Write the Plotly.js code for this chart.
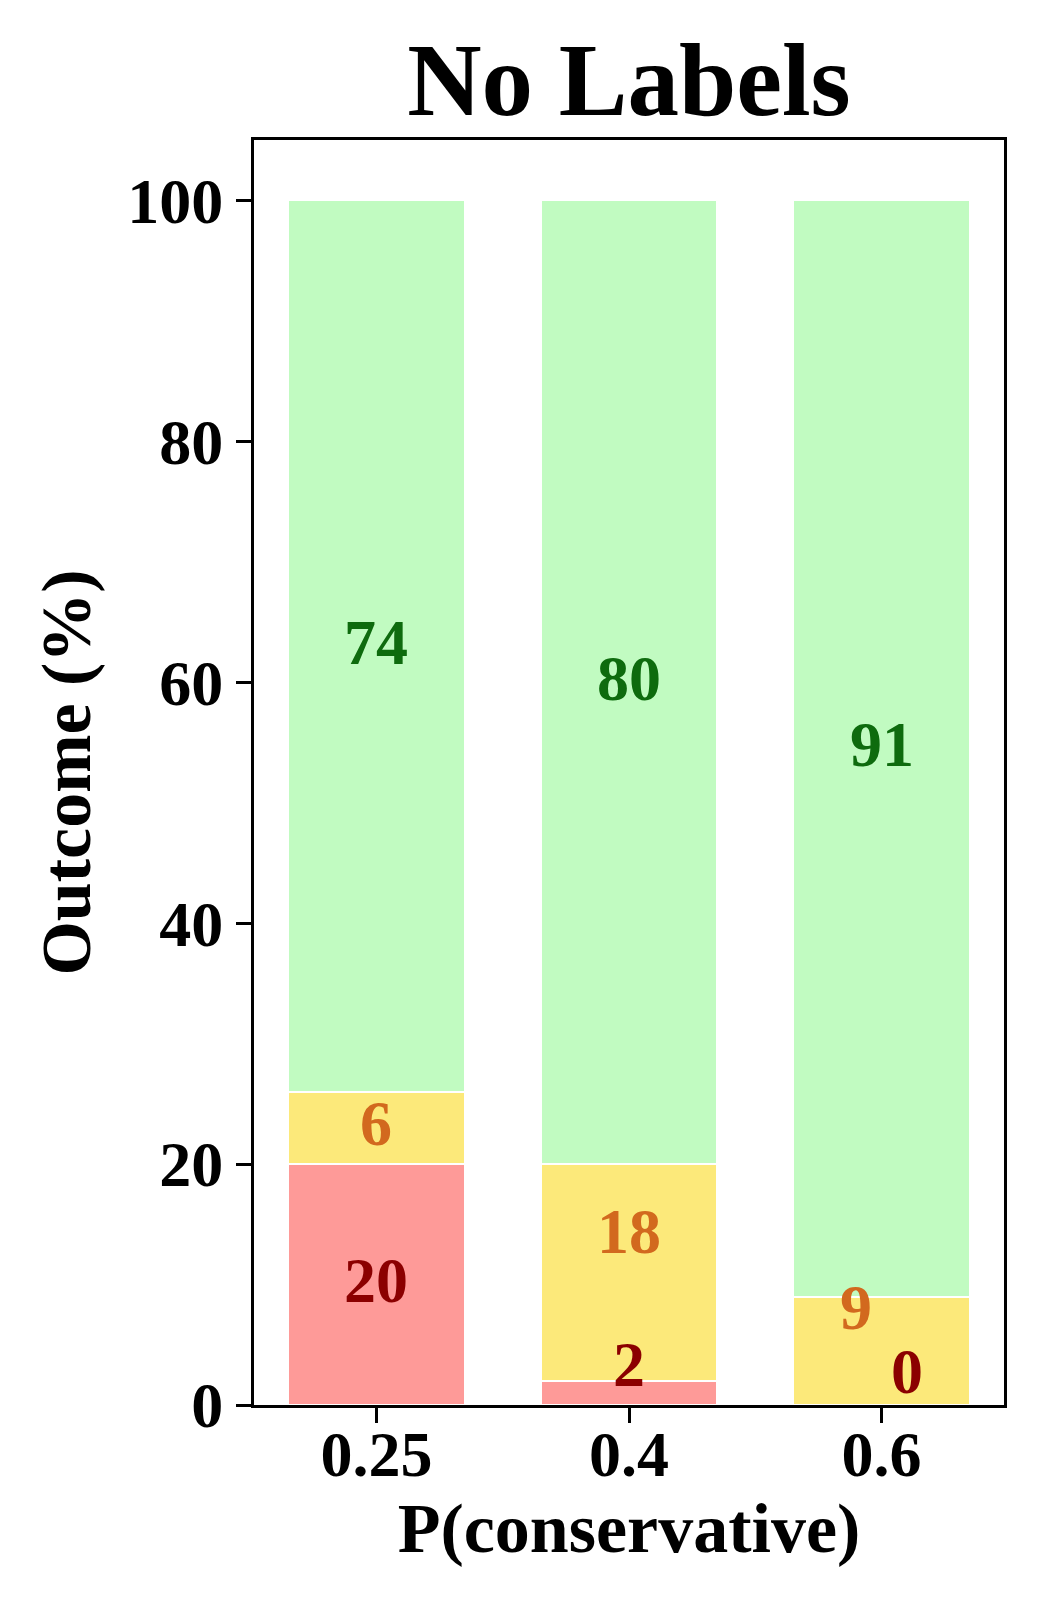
<!DOCTYPE html>
<html>
<head>
<meta charset="utf-8">
<script src="https://cdn.plot.ly/plotly-3.0.1.min.js"></script>
<style>html,body{margin:0;padding:0;background:#fff;}#chart{width:1050px;height:1620px;}</style>
</head>
<body>
<div id="chart"></div>
<script>
const categories = ['0.25', '0.4', '0.6'];
const redValues = [20, 2, 0];
const yellowValues = [6, 18, 9];
const greenValues = [74, 80, 91];
const yTicks = [0, 20, 40, 60, 80, 100];

// styling (label nudges in pixels)
const baseShift = 4;
const redNudgeX = [0, 0, 25], redNudgeY = [0, 24, 30];
const yellowNudgeX = [0, 0, -26], yellowNudgeY = [0, 37, 39];

const FONT = 'Liberation Serif, Times New Roman, serif';
const cGreen = '#c1fbc1', cYellow = '#fce97a', cRed = '#fe9a98';
const tGreen = '#0e6b0e', tYellow = '#d2691e', tRed = '#8b0000';

const xIdx = categories.map((c, i) => i);

function barTrace(vals, color) {
  return {
    type: 'bar', x: xIdx, y: vals, width: 0.7,
    marker: {color: color, line: {color: '#ffffff', width: 2}},
    hoverinfo: 'skip', showlegend: false
  };
}

const traces = [barTrace(redValues, cRed), barTrace(yellowValues, cYellow), barTrace(greenValues, cGreen)];

const annotations = [];
categories.forEach((c, i) => {
  const r = redValues[i], yv = yellowValues[i], g = greenValues[i];
  annotations.push({x: i, y: r / 2, text: String(r), showarrow: false, xshift: redNudgeX[i], yshift: baseShift + redNudgeY[i],
    font: {family: FONT, size: 64, color: tRed, weight: 'bold'}});
  annotations.push({x: i, y: r + yv / 2, text: String(yv), showarrow: false, xshift: yellowNudgeX[i], yshift: baseShift + yellowNudgeY[i],
    font: {family: FONT, size: 64, color: tYellow, weight: 'bold'}});
  annotations.push({x: i, y: r + yv + g / 2, text: String(g), showarrow: false, yshift: baseShift,
    font: {family: FONT, size: 64, color: tGreen, weight: 'bold'}});
});

const layout = {
  width: 1050, height: 1620,
  margin: {l: 254, r: 46, t: 140, b: 215},
  paper_bgcolor: '#ffffff', plot_bgcolor: '#ffffff',
  barmode: 'stack', bargap: 0.3,
  font: {family: FONT, color: '#000', weight: 'bold'},
  title: {text: '<b>No Labels</b>', x: 0.599, xanchor: 'center', y: 0.951, yanchor: 'middle',
    font: {family: FONT, size: 103, color: '#000'}},
  xaxis: {
    range: [-0.485, 2.485], tickvals: xIdx, ticktext: categories,
    showline: true, linecolor: '#000', linewidth: 3, mirror: true,
    ticks: 'outside', ticklen: 15, tickwidth: 3, tickcolor: '#000',
    ticklabelstandoff: -24,
    showgrid: false, zeroline: false,
    tickfont: {family: FONT, size: 64, color: '#000', weight: 'bold'},
    title: {text: '<b>P(conservative)</b>', standoff: 12, font: {family: FONT, size: 70, color: '#000'}}
  },
  yaxis: {
    range: [0, 105], tickvals: yTicks, ticktext: yTicks.map(String),
    showline: true, linecolor: '#000', linewidth: 3, mirror: true,
    ticks: 'outside', ticklen: 15, tickwidth: 3, tickcolor: '#000',
    showgrid: false, zeroline: false,
    tickfont: {family: FONT, size: 64, color: '#000', weight: 'bold'},
    title: {text: '<b>Outcome (%)</b>', standoff: 14, font: {family: FONT, size: 70, color: '#000'}}
  },
  annotations: annotations
};

Plotly.newPlot('chart', traces, layout, {displayModeBar: false, staticPlot: true});
</script>
</body>
</html>
